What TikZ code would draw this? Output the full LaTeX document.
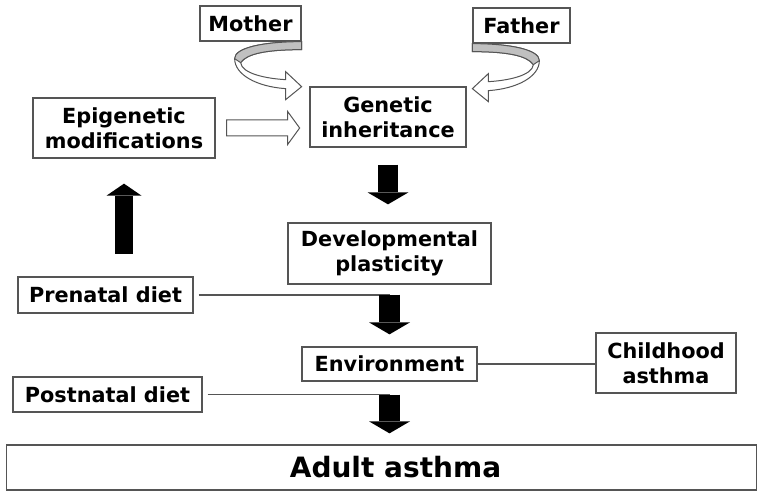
\documentclass[tikz,border=0pt]{standalone}
\usepackage{fontspec}
\setmainfont{DejaVu Sans}
\usetikzlibrary{arrows.meta}

\begin{document}
\begin{tikzpicture}[x=1pt,y=-1pt]

	\definecolor{boxgray}{RGB}{85,85,85}
	\definecolor{bandgray}{RGB}{192,192,192}
	% Styles for the boxes, the thin links and the fat arrows
	\tikzset{
		box/.style={draw=boxgray, line width=1.3pt, fill=white, align=center, inner sep=0pt,
			font=\fontsize{20.8}{25}\selectfont\bfseries},
		link/.style={draw=boxgray, line width=1.2pt},
		fat arrow/.style 2 args={line width=#1, -{Triangle[length=12pt, width=#2, line width=0pt]}},
		% curled ribbon arrow, drawn from the lower right corner of a box
		ribbon/.pic={
			\filldraw[draw=boxgray, fill=white, line width=1pt] (0,0) .. controls (-38,0) and (-67,6) .. (-67,17)
				.. controls (-67,33) and (-45,45) .. (-16,47) -- (-16,58) -- (0,45) -- (-16,30) -- (-16,38)
				.. controls (-35,37) and (-60,32) .. (-61,21) .. controls (-55,12) and (-35,8) .. (0,8) -- cycle;
			\filldraw[draw=boxgray, fill=bandgray, line width=1pt] (0,0) .. controls (-38,0) and (-67,6) .. (-67,17)
				-- (-61,21) .. controls (-55,12) and (-35,8) .. (0,8) -- cycle;
		}
	}
	\useasboundingbox (0,0) rectangle (758,492);

	% Boxes
	\node[box, minimum width=101, minimum height=35] (mother) at (250.5,23.5) {Mother};
	\node[box, minimum width=97, minimum height=35] (father) at (521.5,25.5) {Father};
	\node[box, minimum width=156, minimum height=60] (genetic) at (388,117) {Genetic\\inheritance};
	\node[box, minimum width=182, minimum height=60] (epi) at (124,128) {Epigenetic\\modifications};
	\node[box, minimum width=203, minimum height=61] (devel) at (389.5,253.5) {Developmental\\plasticity};
	\node[box, minimum width=175, minimum height=36] (prenatal) at (105.5,295) {Prenatal diet};
	\node[box, minimum width=175, minimum height=34] (environment) at (389.5,364) {Environment};
	\node[box, minimum width=140, minimum height=60] (childhood) at (666,363) {Childhood\\asthma};
	\node[box, minimum width=189, minimum height=35] (postnatal) at (107.5,394.5) {Postnatal diet};
	\node[box, minimum width=750, minimum height=45, font=\fontsize{28}{32}\selectfont\bfseries] (adult) at (381.5,467.5) {\hspace*{28pt}Adult asthma};

	% Curled arrows from the parents
	\pic at (mother.south east) {ribbon};
	\pic[xscale=-1] at (father.south west) {ribbon};

	% Hollow arrow
	\draw[link, line width=1pt, fill=white] ([xshift=11]epi.east) ++(0,-8) -- ++(61,0) -- ++(0,-8.5) -- ++(12,16.5)
		-- ++(-12,16.5) -- ++(0,-8.5) -- ++(-61,0) -- cycle;

	% Where the fat arrows start and end
	\coordinate (aone) at ([yshift=-17]genetic.south);
	\coordinate (aoneend) at ([yshift=18]devel.north);
	\coordinate (atwo) at ([yshift=-10]devel.south);
	\coordinate (atwoend) at ([yshift=12]environment.north);
	\coordinate (athree) at ([yshift=-13]environment.south);
	\coordinate (athreeend) at ([yshift=11]adult.north);

	% Thin links
	\draw[link] ([xshift=5]prenatal.east) -- (prenatal.east -| atwo);
	\draw[link] ([xshift=5]postnatal.east) -- (postnatal.east -| athree);
	\draw[link] (environment.east) -- (environment.east -| childhood.west);

	% Fat arrows
	\draw[fat arrow={20.5pt}{41pt}] (aone) -- (aone |- aoneend);
	\draw[fat arrow={20.5pt}{41pt}] (atwo) -- (atwo |- atwoend);
	\draw[fat arrow={20.5pt}{41pt}] (athree) -- (athree |- athreeend);
	\draw[fat arrow={18pt}{35pt}] ([yshift=-95]epi.south) -- ([yshift=-25]epi.south);

\end{tikzpicture}
\end{document}
